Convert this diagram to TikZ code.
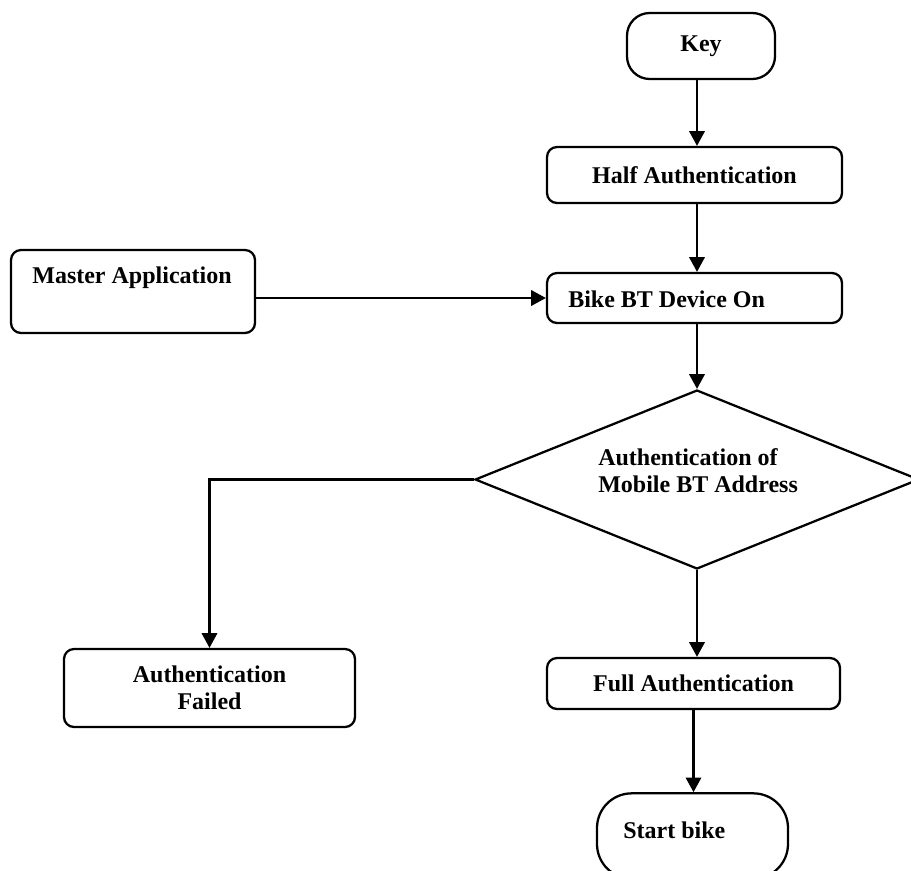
\documentclass[tikz,border=0pt]{standalone}
\usepackage{fontspec}
\setmainfont{Liberation Serif}
\usetikzlibrary{arrows.meta,shapes.geometric}
\begin{document}
\begin{tikzpicture}[x=0.75pt,y=-0.75pt,
  every node/.style={font=\fontsize{18}{20.5}\selectfont\bfseries},
  box/.style={draw, line width=1.7pt, rounded corners=7.5pt, inner sep=0pt, align=center},
  term/.style={draw, line width=1.7pt, inner sep=0pt},
  lbl/.style={inner sep=0pt, align=left},
  arr/.style={line width=1.7pt, -{Triangle[width=11.5pt,length=11pt]}},
  conn/.style={line width=1.7pt}]
\useasboundingbox (0,0) rectangle (911,871);

% nodes
\node[term, rounded corners=17pt, minimum width=111pt, minimum height=49.5pt] (key) at (701,46) {Key};
\node[box, minimum width=221.25pt, minimum height=42pt] (half) at (694.5,175) {Half Authentication};
\node[box, minimum width=221.25pt, minimum height=37.5pt] (bike) at (694.5,298) {};
\node[lbl, anchor=west] (biketxt) at (568,299) {Bike BT Device On};
\node[box, minimum width=183pt, minimum height=62.25pt] (master) at (133,291.5) {};
\node[lbl] (mastertxt) at (132,278) {Master Application};
\node[draw, diamond, line width=1.7pt, inner sep=0pt, minimum width=333pt, minimum height=134.25pt] (dec) at (697,479.5) {};
\node[lbl, anchor=west] (dectxt) at (598,470.5) {Authentication of\\Mobile BT Address};
\node[box, minimum width=218.25pt, minimum height=58.5pt] (failed) at (209.5,688) {Authentication\\Failed};
\node[box, minimum width=219.75pt, minimum height=38.25pt] (full) at (693.5,683.5) {Full Authentication};
\node[term, rounded corners=26pt, minimum width=143.25pt, minimum height=64pt] (start) at (692.5,836) {};
\node[lbl, anchor=west] (starttxt) at (623,830) {Start bike};

% connectors
\draw[arr] (key.south -| dec.north) -- (half.north -| dec.north);
\draw[arr] (half.south -| dec.north) -- (bike.north -| dec.north);
\draw[arr] (master.east |- bike.west) -- (bike.west);
\draw[arr] (bike.south -| dec.north) -- (dec.north);
\draw[arr] (dec.west) -| (failed.north);
\draw[arr] (dec.south) -- (full.north -| dec.south);
\draw[arr] (full.south) -- (full.south |- start.north);
\end{tikzpicture}
\end{document}
